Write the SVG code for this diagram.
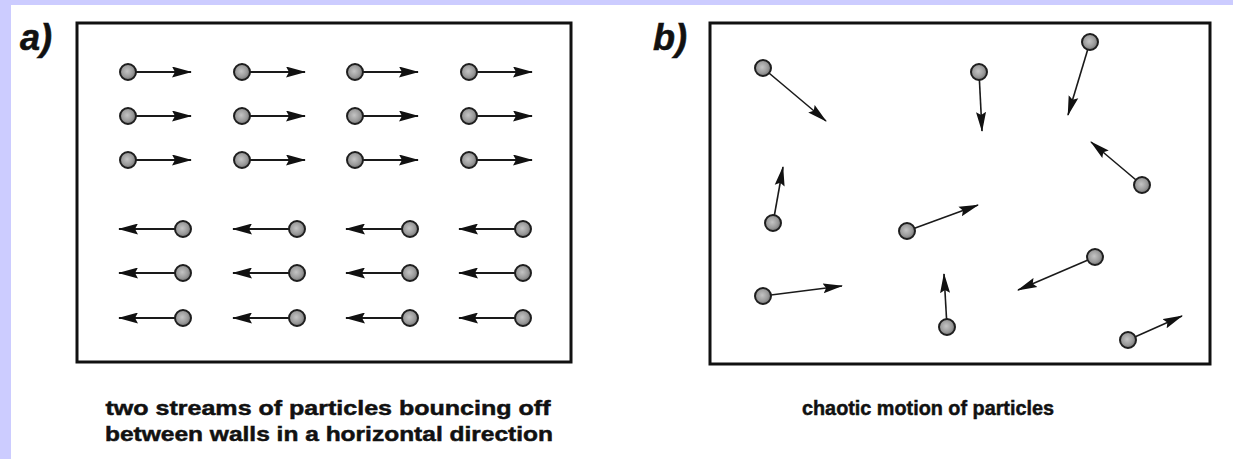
<svg xmlns="http://www.w3.org/2000/svg" width="1233" height="459" viewBox="0 0 1233 459">
  <style>
    .frame { fill: none; stroke: #111; stroke-width: 3; }
    .shaft { stroke: #1a1a1a; stroke-width: 2; fill: none; }
    .shaft-b { stroke: #1a1a1a; stroke-width: 1.6; fill: none; }
    .ball { fill: url(#ballFill); stroke: #1e1e1e; stroke-width: 2; }
    .tag { font-family: "Liberation Sans", Arial, sans-serif; font-weight: bold; font-style: italic; font-size: 36px; fill: #111; stroke: #111; stroke-width: 0.6; }
    .caption { font-family: "Liberation Sans", Arial, sans-serif; font-weight: bold; font-size: 21px; fill: #111; stroke: #111; stroke-width: 0.5; }
  </style>
  <defs>
    <radialGradient id="ballFill" cx="0.45" cy="0.45" r="0.6">
      <stop offset="0" stop-color="#c4c4c4"/>
      <stop offset="0.6" stop-color="#9a9a9a"/>
      <stop offset="1" stop-color="#6a6a6a"/>
    </radialGradient>
    <marker id="head" markerUnits="userSpaceOnUse" viewBox="0 0 20 11" markerWidth="20" markerHeight="11" refX="19" refY="5.5" orient="auto">
      <path d="M0,0 L20,5.5 L0,11 L3,5.5 Z" fill="#111"/>
    </marker>
    <marker id="headB" markerUnits="userSpaceOnUse" viewBox="0 0 20 11" markerWidth="20" markerHeight="11" refX="19" refY="5.5" orient="auto">
      <path d="M0,0.5 L20,5.5 L0,10.5 L3,5.5 Z" fill="#111"/>
    </marker>
  </defs>

  <!-- page background with lavender margin -->
  <rect x="0" y="0" width="1233" height="459" fill="#ffffff"/>
  <rect x="0" y="0" width="1233" height="5" fill="#ccccff"/>
  <rect x="0" y="0" width="11" height="459" fill="#ccccff"/>

  <!-- panel a -->
  <g id="panel-a">
    <text class="tag" x="20" y="50">a)</text>
    <rect class="frame" x="77" y="23" width="494" height="339"/>
  </g>

  <!-- panel b -->
  <g id="panel-b">
    <text class="tag" x="653" y="50">b)</text>
    <rect class="frame" x="710" y="23" width="500" height="341"/>
  </g>

  <!-- connectors: velocity arrows -->
  <g id="connectors">
    <!-- stream moving right -->
    <line class="shaft" x1="136" y1="72" x2="191" y2="72" marker-end="url(#head)"/>
    <line class="shaft" x1="250" y1="72" x2="305" y2="72" marker-end="url(#head)"/>
    <line class="shaft" x1="363" y1="72" x2="418" y2="72" marker-end="url(#head)"/>
    <line class="shaft" x1="477" y1="72" x2="532" y2="72" marker-end="url(#head)"/>
    <line class="shaft" x1="136" y1="116" x2="191" y2="116" marker-end="url(#head)"/>
    <line class="shaft" x1="250" y1="116" x2="305" y2="116" marker-end="url(#head)"/>
    <line class="shaft" x1="363" y1="116" x2="418" y2="116" marker-end="url(#head)"/>
    <line class="shaft" x1="477" y1="116" x2="532" y2="116" marker-end="url(#head)"/>
    <line class="shaft" x1="136" y1="160" x2="191" y2="160" marker-end="url(#head)"/>
    <line class="shaft" x1="250" y1="160" x2="305" y2="160" marker-end="url(#head)"/>
    <line class="shaft" x1="363" y1="160" x2="418" y2="160" marker-end="url(#head)"/>
    <line class="shaft" x1="477" y1="160" x2="532" y2="160" marker-end="url(#head)"/>
    <!-- stream moving left -->
    <line class="shaft" x1="175" y1="229" x2="119" y2="229" marker-end="url(#head)"/>
    <line class="shaft" x1="289" y1="229" x2="233" y2="229" marker-end="url(#head)"/>
    <line class="shaft" x1="402" y1="229" x2="346" y2="229" marker-end="url(#head)"/>
    <line class="shaft" x1="515" y1="229" x2="459" y2="229" marker-end="url(#head)"/>
    <line class="shaft" x1="175" y1="273" x2="119" y2="273" marker-end="url(#head)"/>
    <line class="shaft" x1="289" y1="273" x2="233" y2="273" marker-end="url(#head)"/>
    <line class="shaft" x1="402" y1="273" x2="346" y2="273" marker-end="url(#head)"/>
    <line class="shaft" x1="515" y1="273" x2="459" y2="273" marker-end="url(#head)"/>
    <line class="shaft" x1="175" y1="318" x2="119" y2="318" marker-end="url(#head)"/>
    <line class="shaft" x1="289" y1="318" x2="233" y2="318" marker-end="url(#head)"/>
    <line class="shaft" x1="402" y1="318" x2="346" y2="318" marker-end="url(#head)"/>
    <line class="shaft" x1="515" y1="318" x2="459" y2="318" marker-end="url(#head)"/>

    <!-- chaotic arrows -->
    <line class="shaft-b" x1="763" y1="68" x2="826" y2="121" marker-end="url(#headB)"/>
    <line class="shaft-b" x1="979" y1="72" x2="982" y2="131" marker-end="url(#headB)"/>
    <line class="shaft-b" x1="1090" y1="42" x2="1068" y2="115" marker-end="url(#headB)"/>
    <line class="shaft-b" x1="1142" y1="185" x2="1091" y2="142" marker-end="url(#headB)"/>
    <line class="shaft-b" x1="773" y1="223" x2="783" y2="167" marker-end="url(#headB)"/>
    <line class="shaft-b" x1="907" y1="231" x2="978" y2="205" marker-end="url(#headB)"/>
    <line class="shaft-b" x1="763" y1="296" x2="842" y2="286" marker-end="url(#headB)"/>
    <line class="shaft-b" x1="947" y1="327" x2="944" y2="274" marker-end="url(#headB)"/>
    <line class="shaft-b" x1="1095" y1="257" x2="1018" y2="290" marker-end="url(#headB)"/>
    <line class="shaft-b" x1="1128" y1="340" x2="1182" y2="316" marker-end="url(#headB)"/>
  </g>

  <!-- particles, panel a -->
  <g id="particles-a">
    <circle class="ball" cx="128" cy="72" r="8"/>
    <circle class="ball" cx="242" cy="72" r="8"/>
    <circle class="ball" cx="355" cy="72" r="8"/>
    <circle class="ball" cx="469" cy="72" r="8"/>
    <circle class="ball" cx="128" cy="116" r="8"/>
    <circle class="ball" cx="242" cy="116" r="8"/>
    <circle class="ball" cx="355" cy="116" r="8"/>
    <circle class="ball" cx="469" cy="116" r="8"/>
    <circle class="ball" cx="128" cy="160" r="8"/>
    <circle class="ball" cx="242" cy="160" r="8"/>
    <circle class="ball" cx="355" cy="160" r="8"/>
    <circle class="ball" cx="469" cy="160" r="8"/>
    <circle class="ball" cx="183" cy="229" r="8"/>
    <circle class="ball" cx="297" cy="229" r="8"/>
    <circle class="ball" cx="410" cy="229" r="8"/>
    <circle class="ball" cx="523" cy="229" r="8"/>
    <circle class="ball" cx="183" cy="273" r="8"/>
    <circle class="ball" cx="297" cy="273" r="8"/>
    <circle class="ball" cx="410" cy="273" r="8"/>
    <circle class="ball" cx="523" cy="273" r="8"/>
    <circle class="ball" cx="183" cy="318" r="8"/>
    <circle class="ball" cx="297" cy="318" r="8"/>
    <circle class="ball" cx="410" cy="318" r="8"/>
    <circle class="ball" cx="523" cy="318" r="8"/>
  </g>

  <!-- particles, panel b -->
  <g id="particles-b">
    <circle class="ball" cx="763" cy="68" r="8"/>
    <circle class="ball" cx="979" cy="72" r="8"/>
    <circle class="ball" cx="1090" cy="42" r="8"/>
    <circle class="ball" cx="1142" cy="185" r="8"/>
    <circle class="ball" cx="773" cy="223" r="8"/>
    <circle class="ball" cx="907" cy="231" r="8"/>
    <circle class="ball" cx="763" cy="296" r="8"/>
    <circle class="ball" cx="947" cy="327" r="8"/>
    <circle class="ball" cx="1095" cy="257" r="8"/>
    <circle class="ball" cx="1128" cy="340" r="8"/>
  </g>

  <!-- captions -->
  <g id="caption-a">
    <text class="caption" x="328" y="415" text-anchor="middle" textLength="445" lengthAdjust="spacingAndGlyphs">two streams of particles bouncing off</text>
    <text class="caption" x="329" y="441" text-anchor="middle" textLength="448" lengthAdjust="spacingAndGlyphs">between walls in a horizontal direction</text>
  </g>
  <g id="caption-b">
    <text class="caption" x="928" y="415" text-anchor="middle" textLength="252" lengthAdjust="spacingAndGlyphs">chaotic motion of particles</text>
  </g>
</svg>
